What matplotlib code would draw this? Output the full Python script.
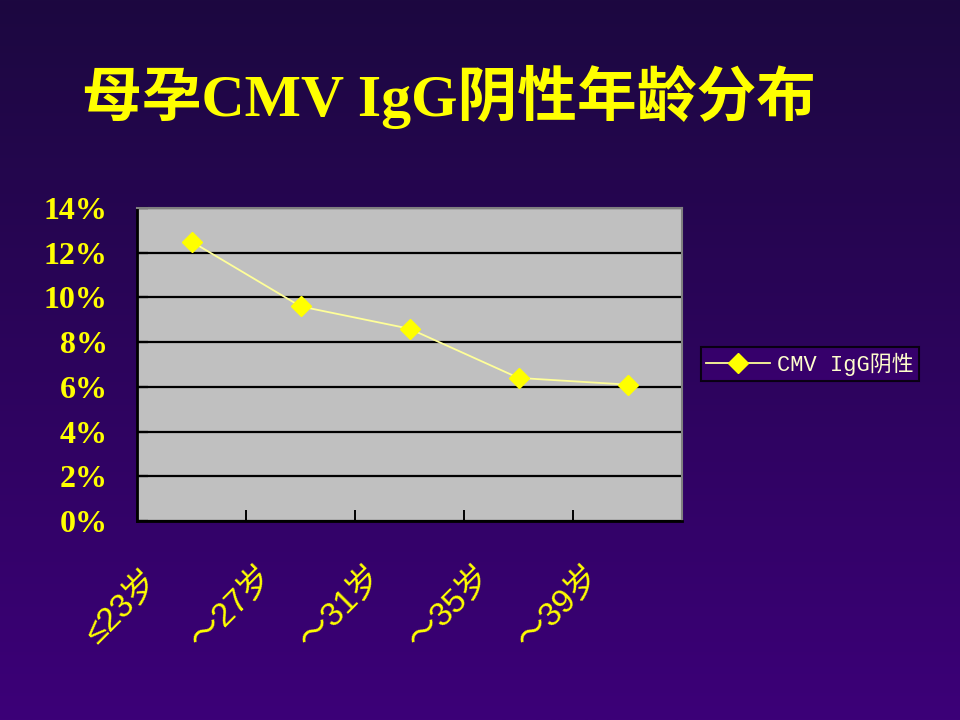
import numpy as np
import matplotlib.pyplot as plt
from matplotlib.colors import LinearSegmentedColormap
import matplotlib.transforms as mtransforms

# Data.
age_groups = ['≤23岁', '～27岁', '～31岁', '～35岁', '～39岁']
igg_negative = [12.5, 9.6, 8.6, 6.4, 6.1]  # percent
y_ticks = [0, 2, 4, 6, 8, 10, 12, 14]
y_tick_labels = ['%d%%' % v for v in y_ticks]
title = '母孕CMV IgG阴性年龄分布'
series_name = 'CMV IgG阴性'

yellow = '#ffff00'
cjk_serif = ['Liberation Serif', 'Noto Sans CJK SC']
cjk_mono = ['Liberation Mono', 'Noto Sans CJK SC']

fig = plt.figure(figsize=(9.6, 7.2), dpi=100)

# Slide background: vertical gradient dark purple -> purple.
bg = fig.add_axes([0, 0, 1, 1])
cmap = LinearSegmentedColormap.from_list('bg', ['#1c0840', '#3c0078'])
bg.imshow(np.linspace(0, 1, 256).reshape(-1, 1), aspect='auto', cmap=cmap,
          extent=[0, 1, 0, 1])
bg.set_axis_off()

fig.text(82 / 960, 1 - 97 / 720, title, color=yellow, fontsize=43,
         fontweight='bold', family=cjk_serif, ha='left', va='center')

# Chart area.
ax = fig.add_axes([137 / 960, 1 - 521 / 720, 545 / 960, 313 / 720])
ax.set_facecolor('#c0c0c0')
x = np.arange(len(age_groups))
ax.plot(x, igg_negative, color='#ffff99', linewidth=1.3, marker='D',
        markersize=10, markerfacecolor=yellow, markeredgecolor=yellow,
        label=series_name, zorder=3)
ax.set_xlim(-0.5, len(age_groups) - 0.5)
ax.set_ylim(0, 14)
ax.set_yticks(y_ticks)
ax.set_yticklabels(y_tick_labels, color=yellow, fontsize=23,
                   fontweight='bold', family='Liberation Serif')
ax.yaxis.grid(True, color='black', linewidth=1.6)
ax.set_axisbelow(True)
ax.tick_params(axis='y', direction='in', length=8, width=1.6, color='black', pad=21)

ax.set_xticks(np.arange(len(age_groups) + 1) - 0.5)
ax.set_xticklabels([])
ax.tick_params(axis='x', direction='in', length=8, width=1.4, color='black')

for s in ['left', 'bottom']:
    ax.spines[s].set_color('black')
    ax.spines[s].set_linewidth(2)
for s in ['top', 'right']:
    ax.spines[s].set_color('#808080')
    ax.spines[s].set_linewidth(1.5)

# Rotated category labels.
trans = mtransforms.blended_transform_factory(ax.transData, ax.transAxes)
for i, name in enumerate(age_groups):
    ax.text(i - 0.63, -0.275, name, transform=trans, rotation=45,
            ha='center', va='center', color=yellow, fontsize=24,
            family=['Liberation Sans', 'Noto Sans CJK SC'], clip_on=False)

leg = fig.legend(loc='center left', bbox_to_anchor=(701 / 960, 1 - 364 / 720),
                 frameon=True, fancybox=False,
                 prop={'family': cjk_mono, 'size': 15.8},
                 handlelength=2.9, borderpad=0.25, handletextpad=0.3,
                 borderaxespad=0)
leg.get_frame().set_facecolor('#3a0070')
leg.get_frame().set_edgecolor('black')
leg.get_frame().set_linewidth(1.5)
for t in leg.get_texts():
    t.set_color('#ffffcc')

fig.savefig('out.png', dpi=100)
